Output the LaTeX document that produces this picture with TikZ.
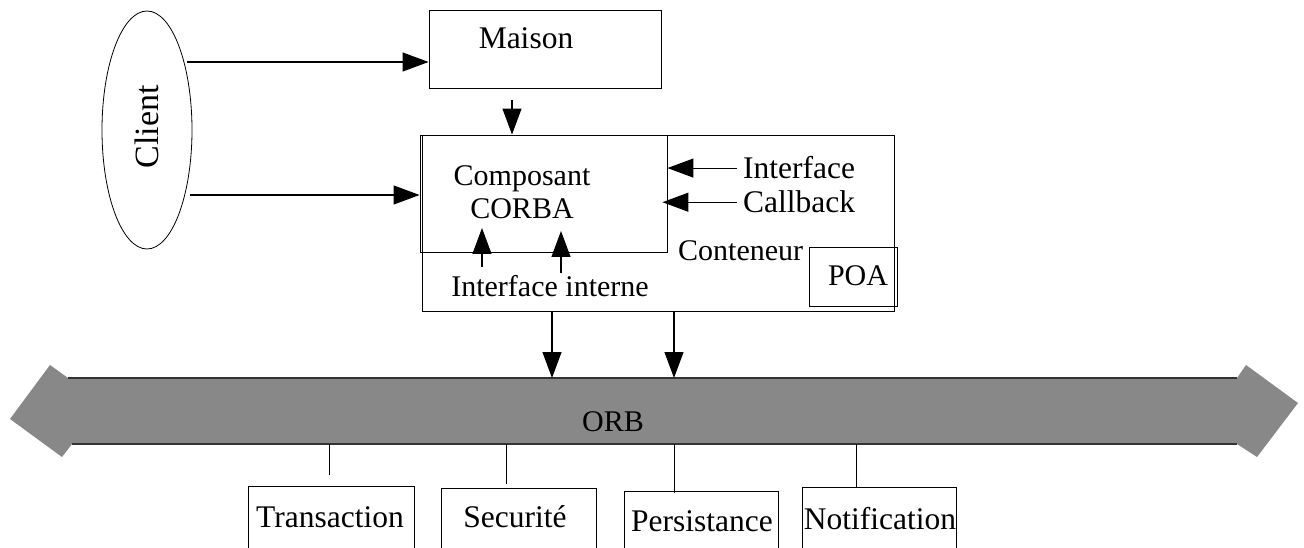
\documentclass[tikz,border=0pt]{standalone}
\usepackage{fontspec}
\setmainfont{Liberation Serif}
\usetikzlibrary{arrows.meta}
\usetikzlibrary{shapes.geometric}

\definecolor{orbgray}{HTML}{888888}
\definecolor{orbedge}{HTML}{333333}

\begin{document}
\begin{tikzpicture}[x=1pt, y=-1pt,
  box/.style={draw, line width=0.9pt, inner sep=0pt},
  lbl/.style={inner sep=0pt, anchor=base, font=\fontsize{30}{34}\selectfont},
  lblbig/.style={inner sep=0pt, anchor=base, font=\fontsize{31.5}{36}\selectfont},
  conn/.style={line width=1.1pt, -{Triangle[length=26pt, width=19pt]}},
  tick/.style={line width=0.9pt}]

\clip (0,0) rectangle (1304,548);

\def\OrbTop{378}
\def\OrbBot{444}

%% client
\node[ellipse, draw, line width=0.8pt, minimum width=90pt, minimum height=238pt, inner sep=0pt] (client) at (147,130) {};
\node[inner sep=0pt, rotate=90, font=\fontsize{34}{38}\selectfont] (clientlbl) at (147,127) {Client};

%% boxes
\node[box, minimum width=232pt, minimum height=78pt] (maison) at (545,49) {};
\node[box, minimum width=472pt, minimum height=176pt] (cont) at (658,223) {};
\node[box, minimum width=247pt, minimum height=117pt] (comp) at (543.5,193.5) {};
\node[box, minimum width=88pt, minimum height=59pt] (poa) at (853,276.5) {};

\node[lblbig] (maisonlbl) at (526,49) {Maison};
\node[lbl] (complbl) at (522,186) {Composant};
\node[lbl] (corbalbl) at (522,219) {CORBA};
\node[lblbig, anchor=base west] (iface) at (743,179) {Interface};
\node[lblbig, anchor=base west] (callb) at (743,213) {Callback};
\node[lbl, anchor=base west] (contlbl) at (678,260) {Conteneur};
\node[lbl] (poalbl) at (858,285) {POA};
\node[lbl] (intlbl) at (550,296) {Interface interne};

%% arrows
\coordinate (c1) at (187,62);
\coordinate (c2) at (190,195);
\draw[conn] (c1) -- (c1 -| maison.west);
\draw[conn] (c2) -- (c2 -| comp.west);

\coordinate (m1) at (512,100);
\draw[conn] (m1) -- (m1 |- comp.north);

\draw[conn] ([xshift=-6pt]iface.west) -- (iface.west -| comp.east);
\draw[conn] ([xshift=-6pt]callb.west) -- ([xshift=-5pt]callb.west -| comp.east);

\coordinate (u1) at (482,267);
\coordinate (u1t) at (482,228);
\coordinate (u2) at (561,273);
\coordinate (u2t) at (561,231);
\draw[conn] (u1) -- (u1t);
\draw[conn] (u2) -- (u2t);

%% ORB
\fill[orbgray] (10,419) -- (50,365) -- (68,\OrbTop) -- (1237,\OrbTop) -- (1246,365) -- (1298,403)
  -- (1257,457) -- (1237,\OrbBot) -- (72,\OrbBot) -- (62,457) -- cycle;
\draw[line width=1.6pt, orbedge] (68,\OrbTop) -- (1237,\OrbTop);
\draw[line width=1.6pt, orbedge] (72,\OrbBot) -- (1237,\OrbBot);
\node[lbl] (orb) at (613,431) {ORB};

\coordinate (d1) at (552,311);
\coordinate (d2) at (674,311);
\coordinate (o1) at (552,\OrbTop);
\coordinate (o2) at (674,\OrbTop);
\draw[conn] (d1) -- (o1);
\draw[conn] (d2) -- (o2);

%% services
\node[box, minimum width=166pt, minimum height=114pt] (trans) at (331,543) {};
\node[box, minimum width=155pt, minimum height=112pt] (secu) at (518.5,544) {};
\node[box, minimum width=154pt, minimum height=109pt] (pers) at (701,545.5) {};
\node[box, minimum width=154pt, minimum height=113pt] (notif) at (879,543.5) {};

\node[lblbig] (translbl) at (330,527) {Transaction};
\node[lblbig] (seculbl) at (515,527) {Securité};
\node[lblbig] (perslbl) at (702,531) {Persistance};
\node[lblbig] (notiflbl) at (880,529) {Notification};

\draw[tick] (329,\OrbBot) -- (329,475);
\draw[tick] (506,\OrbBot) -- (506,484);
\draw[tick] (674,\OrbBot) -- (674,493);
\draw[tick] (856,\OrbBot) -- (856,488);

\end{tikzpicture}
\end{document}
